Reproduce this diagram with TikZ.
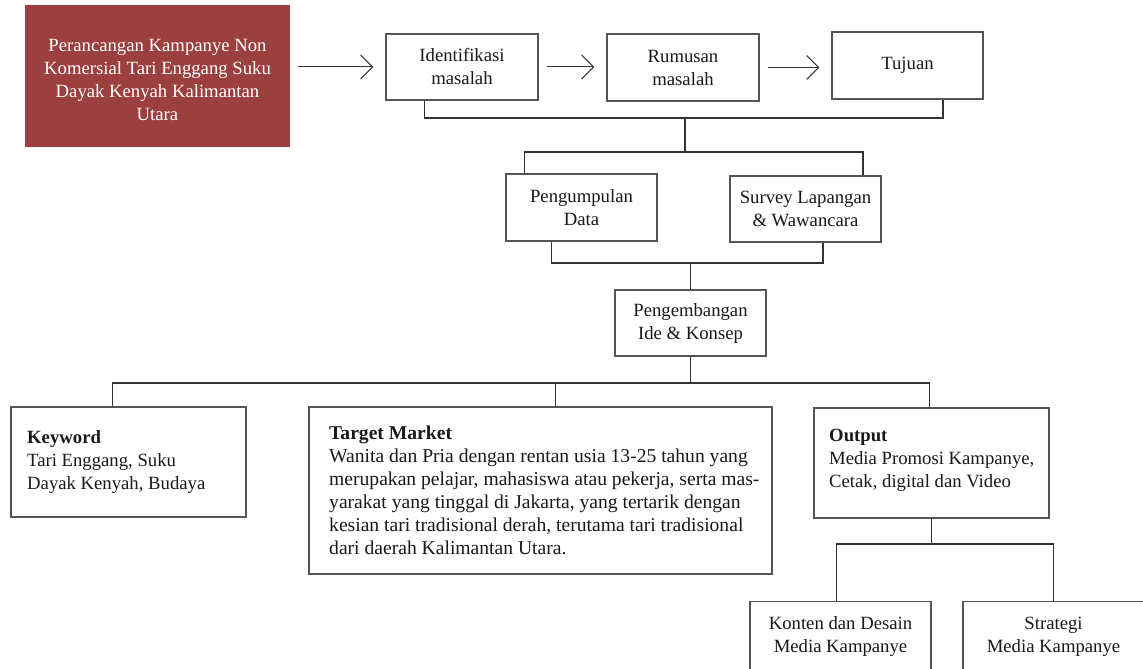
\documentclass[tikz,border=0pt]{standalone}
\usepackage{fontspec}
\setmainfont{Liberation Serif}
\usetikzlibrary{arrows.meta}
\definecolor{boxred}{RGB}{156,64,63}
\definecolor{edgecol}{RGB}{85,85,85}
\definecolor{conncol}{RGB}{51,51,51}
\begin{document}
\begin{tikzpicture}[x=1pt,y=-1pt,
  every node/.style={font=\fontsize{18.7}{23}\selectfont, text=black!90},
  box/.style={draw=edgecol, line width=1.2pt, fill=white, align=center, inner sep=0pt},
  redbox/.style={fill=boxred, inner sep=0pt},
  redtxt/.style={text=white, align=center, inner sep=0pt},
  txt/.style={align=left, inner sep=0pt, anchor=west},
  conn/.style={draw=conncol, line width=1.8pt},
  arr/.style={draw=conncol, line width=1pt, -{Straight Barb[length=12pt,width=24pt]}, shorten <=8pt, shorten >=12pt}]
\useasboundingbox (0,0) rectangle (1143,669);
\clip (0,0) rectangle (1143,669);
\fill[white] (0,0) rectangle (1143,669);

% top row
\node[redbox, minimum width=265pt, minimum height=142pt] (red) at (157.5,76) {};
\node[redtxt] (redt) at (157.5,79.5)
  {Perancangan Kampanye Non\\Komersial Tari Enggang Suku\\Dayak Kenyah Kalimantan\\Utara};
\node[box, minimum width=152pt, minimum height=66pt] (ident) at (462,67) {Identifikasi\\masalah};
\node[box, minimum width=152pt, minimum height=67pt] (rumus) at (683,67.5) {Rumusan\\masalah};
\node[box, minimum width=151pt, minimum height=67pt] (tujuan) at (907.5,65.5) {Tujuan};

% second row
\node[box, minimum width=151pt, minimum height=67pt] (peng) at (581.5,207.5) {Pengumpulan\\Data};
\node[box, minimum width=151pt, minimum height=66pt] (survey) at (805.5,209) {Survey Lapangan\\\& Wawancara};

% third row
\node[box, minimum width=151pt, minimum height=66pt] (dev) at (690.5,323) {Pengembangan\\Ide \& Konsep};

% fourth row
\node[box, minimum width=235pt, minimum height=110pt] (kw) at (128.5,462) {};
\node[txt] (kwt) at (27,462.5) {\textbf{Keyword}\\Tari Enggang, Suku\\Dayak Kenyah, Budaya};
\node[box, minimum width=463pt, minimum height=167pt] (tm) at (540.5,490.5) {};
\node[txt, font=\fontsize{19.6}{23}\selectfont] (tmt) at (329,490) {\textbf{Target Market}\\
  Wanita dan Pria dengan rentan usia 13-25 tahun yang\\
  merupakan pelajar, mahasiswa atau pekerja, serta mas-\\
  yarakat yang tinggal di Jakarta, yang tertarik dengan\\
  kesian tari tradisional derah, terutama tari tradisional\\
  dari daerah Kalimantan Utara.};
\node[box, minimum width=235pt, minimum height=110pt] (out) at (931.5,463) {};
\node[txt] (outt) at (829,460) {\textbf{Output}\\Media Promosi Kampanye,\\Cetak, digital dan Video};

% bottom row
\node[box, minimum width=181pt, minimum height=70pt] (konten) at (840.5,636.5) {Konten dan Desain\\Media Kampanye};
\node[box, minimum width=181pt, minimum height=70pt] (strat) at (1053.5,636.5) {Strategi\\Media Kampanye};

% arrows
\draw[arr] (ident.west -| red.east) -- (ident.west);
\draw[arr] (ident.east) -- (rumus.west |- ident.east);
\draw[arr] (rumus.east) -- (tujuan.west |- rumus.east);

% junctions
\coordinate (j1) at (685,118);
\coordinate (j2) at (685,152);
\coordinate (j3) at (690.5,263);
\coordinate (j4) at (690.5,383);
\coordinate (j5) at (931.5,544);

\draw[conn] ([xshift=39pt]ident.south west) |- (j1) -| ([xshift=-41pt]tujuan.south east);
\draw[conn] (j1) -- (j2);
\draw[conn] ([xshift=19pt]peng.north west) |- (j2) -| ([xshift=-19pt]survey.north east);
\draw[conn] ([xshift=46pt]peng.south west) |- (j3) -| ([xshift=-59pt]survey.south east);
\draw[conn] (j3) -- (dev.north);
\draw[conn] (dev.south) -- (j4);
\draw[conn] ([xshift=102pt]kw.north west) |- (j4) -| ([xshift=116pt]out.north west);
\draw[conn] ([xshift=247pt]tm.north west) |- (j4);
\draw[conn] (out.south) -- (j5);
\draw[conn] ([xshift=87pt]konten.north west) |- (j5) -| ([xshift=91pt]strat.north west);
\end{tikzpicture}
\end{document}
